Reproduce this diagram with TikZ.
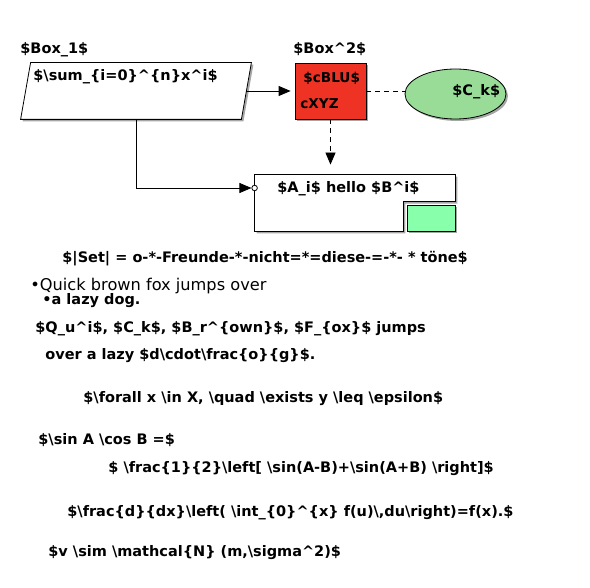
\documentclass[tikz,border=0pt]{standalone}
\usepackage{fontspec}
\setmainfont{DejaVu Sans}
\usetikzlibrary{arrows.meta,shapes.geometric,shadows,calc}
\definecolor{boxred}{RGB}{238,51,36}
\definecolor{ellgreen}{RGB}{152,220,152}
\definecolor{portgreen}{RGB}{136,255,170}
\newcommand{\bs}{\textbackslash}
\newcommand{\ca}{\textasciicircum}
\begin{document}
\begin{tikzpicture}[x=1pt,y=-1pt,
  shad/.style={drop shadow={shadow xshift=2pt,shadow yshift=-2pt,opacity=0.35,fill=black}},
  lbl/.style={anchor=base west,inner sep=0pt,font=\fontsize{14.5}{17}\selectfont\bfseries},
  inlbl/.style={anchor=base west,inner sep=0pt,font=\fontsize{13.6}{16}\selectfont\bfseries},
  reg/.style={anchor=base west,inner sep=0pt,font=\fontsize{16.2}{19}\selectfont},
  tip/.style={-{Triangle[length=12pt,width=10pt]}},
  dsh/.style={dash pattern=on 5pt off 4pt},
  every path/.style={line width=0.8pt}
]
\useasboundingbox (0,0) rectangle (590,588);
\fill[white] (0,0) rectangle (590,588);

% parallelogram Box_1
\node[minimum width=220pt, minimum height=56pt, inner sep=0pt] (b1) at (136,91) {};
\draw[fill=white, shad] ($(b1.north west)+(5,0)$) -- ($(b1.north east)+(5,0)$)
   -- ($(b1.south east)+(-5,0)$) -- ($(b1.south west)+(-5,0)$) -- cycle;
% Box^2
\node[draw, fill=boxred, minimum width=71pt, minimum height=56pt, inner sep=0pt, shad] (red) at (330.5,91) {};
% ellipse
\node[ellipse, draw, fill=ellgreen, minimum width=101pt, minimum height=50pt, inner sep=0pt, shad] (ell) at (455.5,94) {};
% A box with notch and slot
\node[minimum width=200pt, minimum height=56pt, inner sep=0pt] (abox) at (355,203) {};
\draw[fill=white, shad] (abox.north west) -- (abox.north east) -- ($(abox.north east)+(0,27)$)
   -- ($(abox.north east)+(-52,27)$) -- ($(abox.south east)+(-52,0)$) -- (abox.south west) -- cycle;
\node[draw, fill=portgreen, minimum width=48pt, minimum height=26pt, inner sep=0pt, shad, anchor=south east] (slot) at (abox.south east) {};
\node[circle, draw, fill=white, minimum size=5.5pt, inner sep=0pt] (port) at (abox.west |- 0,188) {};

% labels
\node[lbl] (t1) at (20,54) {\$Box\_1\$};
\node[lbl] (t2) at (293,54) {\$Box\ca 2\$};
\node[lbl] (t3) at (33,81) {\$\bs sum\_\{i=0\}\ca\{n\}x\ca i\$};
\node[inlbl] (t4) at (303,83) {\$cBLU\$};
\node[inlbl] (t5) at (300,109) {cXYZ};
\node[lbl] (t6) at (452,96) {\$C\_k\$};
\node[lbl] (t7) at (277,193) {\$A\_i\$ hello \$B\ca i\$};

% connectors
\draw[tip, shorten >=4pt] (b1.east) -- (red.west);
\draw[dsh] (red.east) -- (red.east -| ell.west);
\draw[dsh, tip, shorten >=10pt] (red.south) -- (red.south |- abox.north);
\draw[tip] (b1.south) |- (port.west);

% text block
\node[lbl] (s1) at (62,263) {\$|Set| = o-*-Freunde-*-nicht=*=diese-=-*- * töne\$};
\node[reg] (s2) at (30,291) {•Quick brown fox jumps over};
\node[lbl] (s3) at (42,305) {•a lazy dog.};
\node[lbl] (s4) at (35,333) {\$Q\_u\ca i\$, \$C\_k\$, \$B\_r\ca\{own\}\$, \$F\_\{ox\}\$ jumps};
\node[lbl] (s5) at (45,360) {over a lazy \$d\bs cdot\bs frac\{o\}\{g\}\$.};
\node[lbl] (s6) at (83,403) {\$\bs forall x \bs in X, \bs quad \bs exists y \bs leq \bs epsilon\$};
\node[lbl] (s7) at (38,445) {\$\bs sin A \bs cos B =\$};
\node[lbl] (s8) at (108,472) {\$ \bs frac\{1\}\{2\}\bs left[ \bs sin(A-B)+\bs sin(A+B) \bs right]\$};
\node[lbl] (s9) at (67,516) {\$\bs frac\{d\}\{dx\}\bs left( \bs int\_\{0\}\ca\{x\} f(u)\bs,du\bs right)=f(x).\$};
\node[lbl] (s10) at (48,556) {\$v \bs sim \bs mathcal\{N\} (m,\bs sigma\ca 2)\$};
\end{tikzpicture}
\end{document}
